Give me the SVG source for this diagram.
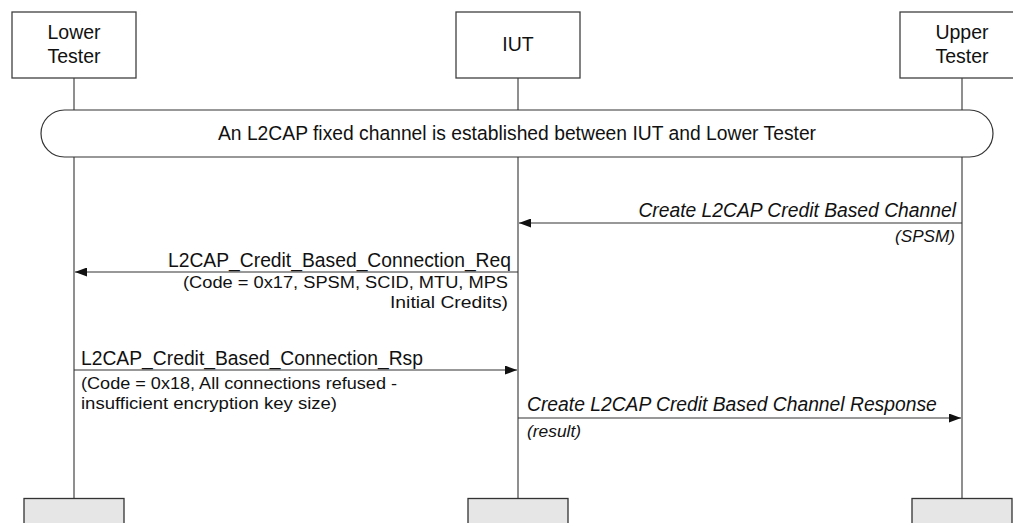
<svg xmlns="http://www.w3.org/2000/svg" width="1013" height="523" viewBox="0 0 1013 523">
<defs>
<style>
.box{fill:#fff;stroke:#404040;stroke-width:1.3}
.endbox{fill:#e6e6e6;stroke:#333;stroke-width:1.3}
.life{stroke:#333;stroke-width:1.1;fill:none}
.msg{stroke:#333;stroke-width:1.2;fill:none}
.t{font-family:"Liberation Sans",Arial,sans-serif;fill:#111}
.lbl{font-size:19.5px}
.main{font-size:19.3px}
.sub{font-size:16px}
.it{font-style:italic}
</style>
<marker id="ah" viewBox="0 0 12 9" refX="12" refY="4.5" markerWidth="12" markerHeight="9" markerUnits="userSpaceOnUse" orient="auto">
<path d="M0,0 L12,4.5 L0,9 Z" fill="#111"/>
</marker>
</defs>
<rect width="1013" height="523" fill="#fff"/>
<g id="lifelines">
<line class="life" x1="74" y1="78" x2="74" y2="499"/>
<line class="life" x1="518" y1="78" x2="518" y2="499"/>
<line class="life" x1="962" y1="78" x2="962" y2="499"/>
</g>
<g id="lower-tester">
<rect class="box" x="12" y="12" width="124" height="66"/>
<text class="t lbl" x="74" y="39" text-anchor="middle">Lower</text>
<text class="t lbl" x="74" y="63" text-anchor="middle">Tester</text>
<rect class="endbox" x="24" y="498.5" width="100" height="30"/>
</g>
<g id="iut">
<rect class="box" x="456" y="12" width="124" height="66"/>
<text class="t lbl" x="518" y="51" text-anchor="middle">IUT</text>
<rect class="endbox" x="468" y="498.5" width="100" height="30"/>
</g>
<g id="upper-tester">
<rect class="box" x="900" y="12" width="124" height="66"/>
<text class="t lbl" x="962" y="39" text-anchor="middle">Upper</text>
<text class="t lbl" x="962" y="63" text-anchor="middle">Tester</text>
<rect class="endbox" x="912" y="498.5" width="100" height="30"/>
</g>
<g id="banner">
<rect x="41" y="110" width="952" height="47" rx="23.5" ry="23.5" fill="#fff" stroke="#333" stroke-width="1.2"/>
<text class="t main" x="517" y="139.5" text-anchor="middle">An L2CAP fixed channel is established between IUT and Lower Tester</text>
</g>
<g id="connectors">
<line class="msg" x1="962" y1="223" x2="519" y2="223" marker-end="url(#ah)"/>
<line class="msg" x1="518" y1="272" x2="75" y2="272" marker-end="url(#ah)"/>
<line class="msg" x1="74" y1="370" x2="517" y2="370" marker-end="url(#ah)"/>
<line class="msg" x1="518" y1="418" x2="961" y2="418" marker-end="url(#ah)"/>
</g>
<g id="labels">
<text class="t main it" x="956" y="216.5" text-anchor="end">Create L2CAP Credit Based Channel</text>
<text class="t sub it" x="955" y="241.5" text-anchor="end" textLength="60" lengthAdjust="spacingAndGlyphs">(SPSM)</text>
<text class="t main" x="511" y="266.5" text-anchor="end">L2CAP_Credit_Based_Connection_Req</text>
<text class="t sub" x="508" y="287.5" text-anchor="end" textLength="325" lengthAdjust="spacingAndGlyphs">(Code = 0x17, SPSM, SCID, MTU, MPS</text>
<text class="t sub" x="508" y="308" text-anchor="end" textLength="118" lengthAdjust="spacingAndGlyphs">Initial Credits)</text>
<text class="t main" x="81" y="365">L2CAP_Credit_Based_Connection_Rsp</text>
<text class="t sub" x="81" y="389" textLength="316" lengthAdjust="spacingAndGlyphs">(Code = 0x18, All connections refused -</text>
<text class="t sub" x="81" y="409" textLength="256" lengthAdjust="spacingAndGlyphs">insufficient encryption key size)</text>
<text class="t main it" x="527" y="411">Create L2CAP Credit Based Channel Response</text>
<text class="t sub it" x="527" y="436.5" textLength="54" lengthAdjust="spacingAndGlyphs">(result)</text>
</g>
</svg>
